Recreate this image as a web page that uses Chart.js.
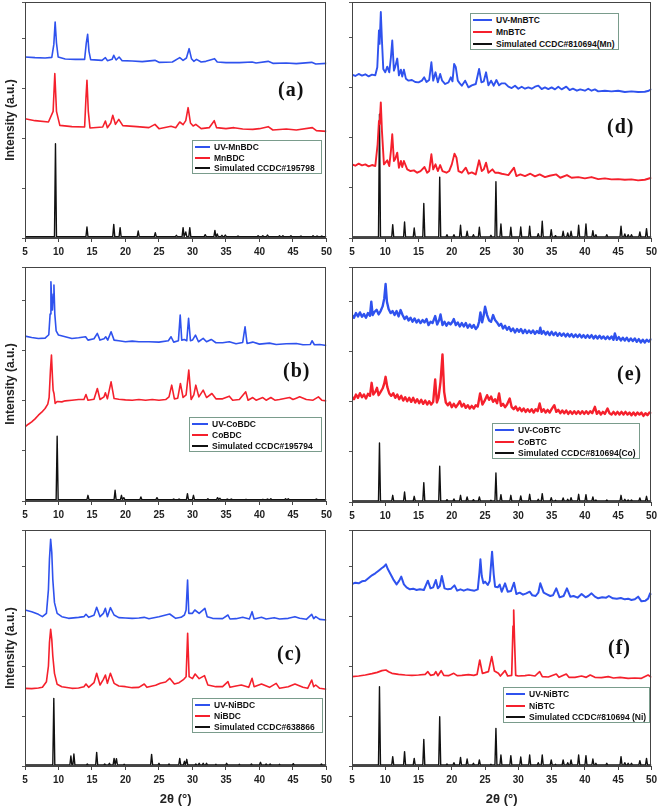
<!DOCTYPE html>
<html>
<head>
<meta charset="utf-8">
<script src="https://cdn.jsdelivr.net/npm/chart.js@4.4.1/dist/chart.umd.min.js"></script>
<style>
body { margin: 0; background: #fff; width: 661px; height: 809px; position: relative; overflow: hidden; font-family: "Liberation Sans", Arial, sans-serif; }
canvas { position: absolute; }
.legend { position: absolute; box-sizing: border-box; border: 1px solid #7a9c8c; background: #fff; font-weight: bold; font-size: 8.5px; color: #111; }
.legend div { position: absolute; left: 2px; white-space: nowrap; line-height: 10px; }
.legend i { display: inline-block; height: 2px; vertical-align: middle; margin-right: 4px; margin-top: -1px; }
.tag { position: absolute; font-family: "Liberation Serif", "Times New Roman", serif; font-weight: bold; font-size: 20px; line-height: 24px; letter-spacing: 1px; color: #111; }
</style>
</head>
<body>
<script>
// Axe des abscisses commun (2θ)
const xTicks = [5, 10, 15, 20, 25, 30, 35, 40, 45, 50];
const colors = ['#2f52ee', '#f5202c', '#111111'];

// Légendes
const legendA = ['UV-MnBDC', 'MnBDC', 'Simulated CCDC#195798'];
const legendB = ['UV-CoBDC', 'CoBDC', 'Simulated CCDC#195794'];
const legendC = ['UV-NiBDC', 'NiBDC', 'Simulated CCDC#638866'];
const legendD = ['UV-MnBTC', 'MnBTC', 'Simulated CCDC#810694(Mn)'];
const legendE = ['UV-CoBTC', 'CoBTC', 'Simulated CCDC#810694(Co)'];
const legendF = ['UV-NiBTC', 'NiBTC', 'Simulated CCDC#810694 (Ni)'];

// (a) MnBDC
const aUV = [[5,543],[6.5,541],[8,540],[9,542],[9.3,580],[9.5,648],[9.7,585],[9.95,543],[11,537],[12.5,536],[13.9,536],[14.15,585],[14.35,611],[14.55,560],[14.8,535],[16.5,533],[17,541],[17.3,532],[18,536],[18.25,548],[18.6,534],[19.05,543],[19.5,532],[21,531],[22.5,529],[24.4,533],[25,527],[27,528],[28.1,541],[28.6,533],[29.1,540],[29.5,568],[29.85,538],[30.2,530],[30.6,536],[31.3,528],[32,530],[33.3,538],[33.7,528],[35,526],[37,526],[38.9,528],[39.5,525],[41.3,530],[42,524],[44,525],[45.5,523],[47.8,527],[48.4,522],[50,524]];
const aRed = [[5,358],[6.5,352],[8.5,348],[9.2,380],[9.45,493],[9.7,380],[10.2,338],[12,334],[13.9,333],[14.1,420],[14.25,473],[14.45,380],[14.7,330],[16.6,333],[17,351],[17.3,331],[17.8,345],[18.1,368],[18.5,341],[19,356],[19.6,337],[21.7,334],[23.5,331],[24.4,341],[25,328],[26.8,335],[27.5,331],[28.1,348],[28.6,340],[29.0,352],[29.35,391],[29.7,345],[30.1,336],[30.5,341],[31.3,328],[32.5,331],[33.25,352],[33.6,331],[35,328],[36.2,331],[37.5,327],[39,326],[40,328],[41.3,334],[42,324],[44,327],[45.5,324],[47.9,331],[48.5,322],[50,320]];
const aSimPeaks = [[9.55,283],[14.25,33],[18.25,41],[19.2,31],[21.9,21],[24.45,16],[27.6,8],[28.6,31],[29.0,18],[29.6,31],[31.9,10],[33.35,23],[33.7,12],[34.4,8],[34.9,9],[36.8,6],[39.8,7],[40.5,7],[41.2,9],[43,7],[43.5,7],[44.7,7],[46.2,6],[48,7],[48.6,6],[49.3,6]];

// (b) CoBDC
const bUV = [[5,494],[6,490],[7,487],[8,488],[8.55,498],[8.75,560],[8.87,657],[9.0,590],[9.1,572],[9.22,620],[9.32,647],[9.45,560],[9.65,510],[10,497],[11,492],[12,487],[13,489],[14.05,492],[14.4,482],[15.3,486],[15.8,502],[16.2,482],[16.8,486],[17.05,492],[17.35,482],[17.85,507],[18.3,482],[19,480],[20,477],[21,479],[22,477],[23.5,477],[25,476],[26.4,480],[26.8,492],[27.2,476],[27.9,480],[28.17,557],[28.4,482],[28.8,484],[29.15,480],[29.42,547],[29.7,480],[30.0,482],[30.45,497],[30.9,477],[31.6,487],[32.1,477],[32.8,484],[33.5,474],[34.5,474],[35.5,477],[36.5,471],[37.5,475],[37.85,522],[38.15,472],[39,476],[40,470],[41.5,473],[42.5,469],[44,471],[45.5,472],[46.5,468],[47.6,469],[47.85,480],[48.2,468],[49,469],[50,466]];
const bRed = [[5,222],[5.5,230],[6,237],[6.5,246],[7,257],[7.5,266],[8,277],[8.4,290],[8.6,310],[8.8,392],[8.95,437],[9.1,370],[9.2,332],[9.33,322],[9.5,292],[9.8,298],[10.5,297],[11,300],[12,302],[13,304],[13.8,304],[14.1,319],[14.4,302],[15.3,305],[15.8,337],[16.2,304],[16.8,312],[17.0,324],[17.3,306],[17.85,357],[18.3,307],[19,305],[20,303],[21,302],[22,304],[23,302],[24,304],[25,302],[26,304],[26.5,312],[26.9,347],[27.3,306],[27.8,308],[28.2,352],[28.6,310],[29.05,318],[29.45,392],[29.8,304],[30.2,318],[30.5,347],[30.95,312],[31.6,332],[32.1,310],[32.9,322],[33.5,306],[34.5,306],[35.5,314],[36,302],[37,304],[37.95,327],[38.3,302],[39,310],[39.5,302],[40.5,310],[41,302],[41.7,310],[42.3,302],[43,304],[44.5,310],[45,304],[45.5,308],[46,312],[47,304],[48,302],[48.8,312],[49.3,302],[50,300]];
const bSimPeaks = [[9.8,194],[14.4,17],[18.45,32],[19.4,17],[19.75,10],[22.3,12],[24.7,10],[27.2,6],[28.0,6],[29.25,22],[30.15,17],[32.3,7],[33.75,10],[34.1,8],[35.2,6],[35.8,6],[38.0,5],[40.5,5],[41.2,6],[41.7,7],[43.9,7],[44.3,7],[48.5,6]];

// (c) NiBDC
const cUV = [[5,468],[6,463],[7,455],[7.6,448],[8.2,458],[8.5,530],[8.65,620],[8.83,680],[9.0,640],[9.15,560],[9.4,490],[9.8,458],[10.5,448],[11.5,443],[13,446],[13.8,448],[14.1,455],[14.5,446],[15.3,452],[15.7,476],[16.2,448],[16.7,458],[17.0,473],[17.3,448],[17.75,475],[18.3,453],[19,445],[20,444],[21,443],[22,444],[22.8,446],[23.5,442],[25,448],[26.6,456],[27.5,443],[28.3,446],[28.8,453],[29.05,468],[29.27,558],[29.45,458],[30.0,458],[30.35,468],[31,458],[31.85,473],[32.2,448],[33,443],[34.5,442],[35.3,453],[35.6,441],[36.5,442],[37.5,446],[38.5,441],[38.9,463],[39.2,441],[40.3,446],[41,441],[42.2,445],[43,441],[44.3,443],[45.3,448],[46,443],[47,440],[47.8,455],[48.1,442],[48.4,448],[49,440],[50,438]];
const cRed = [[5,233],[6,232],[7,234],[7.6,236],[8.2,253],[8.5,300],[8.65,370],[8.83,410],[9.0,380],[9.15,330],[9.4,278],[9.8,245],[10.5,238],[12,233],[13,234],[13.8,238],[14.1,246],[14.5,236],[15.3,250],[15.7,278],[16.2,243],[16.7,260],[17.0,273],[17.3,248],[17.75,278],[18.3,248],[19,240],[20,238],[21,235],[22,236],[22.8,246],[23.2,236],[24.5,242],[25.2,248],[26.0,252],[26.6,263],[27.3,246],[28,250],[28.7,260],[29.05,268],[29.28,398],[29.5,268],[30.0,262],[30.4,276],[31,262],[31.8,271],[32.3,243],[33.5,238],[34.5,238],[35.3,253],[35.6,236],[36.5,240],[37.3,243],[38.4,236],[38.9,263],[39.2,238],[40.3,246],[41.5,236],[42.5,248],[43,233],[44.3,238],[45.3,246],[46.5,236],[47.2,233],[47.8,258],[48.1,238],[48.4,243],[49,233],[50,230]];
const cSimPeaks = [[9.3,203],[11.85,30],[12.3,36],[14.3,6],[15.7,41],[16.9,6],[17.6,8],[18.3,23],[18.65,22],[19.8,5],[23.9,35],[25,8],[26.5,6],[28.1,23],[28.8,14],[29.15,20],[30.5,6],[31.0,8],[31.6,8],[32.1,8],[33.5,5],[35.1,8],[37,5],[38.8,6],[40.15,11],[41,6],[41.6,6],[43,5],[45.05,7],[49.25,6]];

// (d) MnBTC
const dUV = [[5,488],[5.5,484],[6,490],[6.5,485],[7,489],[7.5,483],[8,488],[8.5,486],[8.8,510],[9.05,620],[9.15,580],[9.33,675],[9.5,590],[9.7,505],[10.0,495],[10.3,512],[10.6,495],[10.85,540],[11.05,590],[11.3,500],[11.5,512],[11.8,536],[12.05,486],[12.35,503],[12.55,482],[12.8,503],[13.1,476],[13.5,470],[14,472],[14.5,466],[15,465],[15.5,470],[15.85,480],[16.2,466],[16.6,472],[16.93,525],[17.2,470],[17.55,495],[17.9,465],[18.25,490],[18.55,470],[19,460],[19.5,465],[19.85,480],[20.1,468],[20.35,520],[20.6,510],[20.9,470],[21.2,462],[21.5,455],[22.0,470],[22.5,450],[23,456],[23.6,460],[24.1,505],[24.45,465],[24.8,468],[25.15,495],[25.5,456],[25.9,470],[26.3,455],[26.7,472],[27.1,456],[27.5,462],[28,462],[28.5,452],[29,448],[29.5,455],[30,446],[30.5,452],[31,446],[31.5,450],[32,446],[32.5,452],[33,455],[33.5,445],[34,450],[34.5,445],[35,450],[35.5,444],[36,452],[36.5,444],[37.2,452],[37.7,442],[38.2,446],[38.8,440],[39.3,444],[40,440],[40.5,446],[41,440],[41.5,444],[42,438],[43,440],[44,438],[45,440],[46,436],[47,438],[48,436],[49,437],[49.6,440],[50,445]];
const dRed = [[5,220],[5.5,216],[6,222],[6.5,217],[7,220],[7.5,214],[8,218],[8.5,215],[8.85,280],[9.05,350],[9.15,340],[9.33,405],[9.5,320],[9.8,220],[10.3,232],[10.6,215],[10.85,260],[11.05,310],[11.3,230],[11.5,236],[11.8,255],[12.05,210],[12.35,230],[12.55,212],[12.8,230],[13.3,205],[13.8,200],[14.3,202],[14.8,195],[15.3,200],[15.9,212],[16.3,195],[16.6,200],[16.93,250],[17.2,205],[17.55,220],[17.9,200],[18.25,218],[18.6,200],[19.2,195],[19.6,200],[20.0,220],[20.4,252],[20.7,240],[21.0,200],[21.5,195],[22.1,210],[22.5,192],[23,196],[23.6,190],[24.1,232],[24.5,200],[24.8,205],[25.15,225],[25.5,195],[26.1,205],[26.5,195],[27,195],[27.5,192],[28,190],[28.5,188],[29.35,210],[29.7,185],[30.3,190],[31,185],[31.8,192],[32.5,184],[33.2,190],[34,182],[34.7,186],[35.7,190],[36.3,180],[37.3,188],[38,180],[39,182],[40,178],[41,182],[42,176],[43,178],[44,175],[45,176],[46,174],[47,175],[48,172],[49,174],[50,180]];
const dSimPeaks = [[9.13,370],[11.12,40],[12.9,48],[14.35,30],[15.79,103],[18.18,182],[19.27,10],[20.32,10],[21.31,38],[22.3,20],[23.25,10],[24.14,32],[25.88,8],[26.63,168],[27.38,42],[28.87,32],[30.36,33],[31.7,35],[32.99,13],[33.59,50],[34.94,25],[35.58,7],[36.73,20],[37.42,15],[37.92,20],[39.06,38],[40.16,42],[41.2,22],[41.65,10],[43.29,10],[45.43,35],[46.0,12],[46.5,10],[47.0,10],[48.26,18],[49.26,28]];

// (e) CoBTC
const eUV = [[5,560],[5.3,552],[5.6,566],[5.9,556],[6.2,568],[6.5,555],[6.8,563],[7.1,552],[7.4,566],[7.7,558],[7.9,600],[8.1,560],[8.4,570],[8.7,576],[9.0,562],[9.3,572],[9.6,586],[9.85,610],[10.05,653],[10.25,600],[10.5,578],[10.8,566],[11.1,572],[11.4,560],[11.7,572],[12.0,556],[12.3,575],[12.6,560],[12.9,548],[13.2,556],[13.5,544],[13.8,552],[14.1,540],[14.4,550],[14.7,538],[15.0,546],[15.3,536],[15.6,545],[15.9,538],[16.2,548],[16.5,530],[16.8,540],[17.1,536],[17.5,557],[17.8,532],[18.1,545],[18.3,562],[18.6,530],[18.9,540],[19.2,528],[19.5,538],[19.8,532],[20.1,540],[20.3,548],[20.6,530],[20.9,538],[21.2,526],[21.5,536],[21.8,526],[22.1,536],[22.4,522],[22.7,532],[23.0,522],[23.3,530],[23.6,518],[23.9,526],[24.1,540],[24.3,568],[24.55,538],[24.8,560],[25.0,585],[25.3,560],[25.6,544],[25.9,540],[26.2,560],[26.5,545],[26.8,538],[27.1,528],[27.4,534],[27.7,520],[28.0,528],[28.3,516],[28.6,524],[28.9,512],[29.2,520],[29.5,508],[29.8,518],[30.1,510],[30.4,518],[30.7,506],[31.0,516],[31.3,506],[31.6,514],[31.9,506],[32.2,514],[32.5,504],[32.8,512],[33.1,506],[33.3,522],[33.5,504],[33.8,512],[34.1,502],[34.4,510],[34.7,500],[35.0,510],[35.3,500],[35.6,508],[35.9,498],[36.2,506],[36.5,498],[36.8,505],[37.1,496],[37.4,504],[37.7,496],[38.0,503],[38.3,494],[38.6,502],[38.9,494],[39.2,502],[39.5,493],[39.8,500],[40.1,492],[40.4,500],[40.7,492],[41.0,500],[41.3,490],[41.6,498],[41.9,490],[42.2,498],[42.5,490],[42.8,496],[43.1,488],[43.4,496],[43.7,488],[44.0,496],[44.3,486],[44.5,505],[44.8,486],[45.1,494],[45.4,484],[45.7,492],[46.0,484],[46.3,492],[46.6,482],[46.9,490],[47.2,482],[47.5,490],[47.8,480],[48.1,488],[48.4,478],[48.7,486],[49.0,478],[49.3,486],[49.6,480],[50,490]];
const eRed = [[5,315],[5.3,308],[5.6,322],[5.9,312],[6.2,326],[6.5,314],[6.8,322],[7.1,310],[7.4,324],[7.7,318],[7.95,357],[8.2,322],[8.5,330],[8.75,342],[9.0,320],[9.3,330],[9.6,340],[9.85,355],[10.05,375],[10.3,345],[10.6,325],[10.9,318],[11.2,326],[11.5,312],[11.8,322],[12.1,308],[12.4,318],[12.7,304],[13.0,314],[13.3,302],[13.6,312],[13.9,300],[14.2,312],[14.5,298],[14.8,308],[15.1,296],[15.4,306],[15.7,294],[16.0,304],[16.3,292],[16.6,302],[16.9,292],[17.2,300],[17.5,367],[17.75,298],[18.0,312],[18.3,360],[18.6,442],[18.85,330],[19.1,298],[19.4,290],[19.7,298],[20.0,284],[20.3,294],[20.6,284],[20.9,292],[21.2,302],[21.5,286],[21.8,294],[22.1,282],[22.4,290],[22.7,280],[23.0,288],[23.3,280],[23.6,290],[23.9,286],[24.25,325],[24.6,292],[24.9,302],[25.3,320],[25.6,306],[25.9,316],[26.2,300],[26.5,308],[26.8,296],[27.1,325],[27.4,288],[27.7,294],[28.0,284],[28.3,292],[28.7,310],[29.0,284],[29.3,278],[29.6,286],[29.9,274],[30.2,282],[30.5,272],[30.8,280],[31.1,270],[31.4,278],[31.7,270],[32.0,278],[32.3,268],[32.6,278],[32.9,272],[33.2,295],[33.5,270],[33.8,278],[34.1,268],[34.4,276],[34.7,268],[35.0,278],[35.4,290],[35.7,270],[36.0,276],[36.3,266],[36.6,274],[36.9,266],[37.2,274],[37.5,264],[37.8,272],[38.1,264],[38.4,272],[38.7,264],[39.0,272],[39.3,264],[39.6,272],[39.9,264],[40.2,272],[40.5,264],[40.8,272],[41.1,266],[41.5,285],[41.8,264],[42.1,272],[42.4,262],[42.7,270],[43.0,264],[43.4,280],[43.7,266],[44.0,262],[44.3,270],[44.6,262],[44.9,270],[45.2,262],[45.5,270],[45.8,262],[46.1,270],[46.4,262],[46.7,268],[47.0,260],[47.3,268],[47.6,260],[47.9,268],[48.2,262],[48.5,268],[48.8,258],[49.1,266],[49.4,260],[49.7,268],[50,265]];
const eSimPeaks = [[9.13,177],[11.12,20],[12.9,30],[14.35,17],[15.79,58],[18.18,107],[19.27,7],[20.32,9],[21.31,20],[22.3,15],[23.25,7],[24.14,15],[25.88,5],[26.63,87],[27.38,22],[28.87,20],[30.36,18],[31.7,23],[32.99,8],[33.59,25],[34.94,13],[35.58,5],[36.73,12],[37.42,8],[37.92,13],[39.06,23],[40.16,22],[41.2,15],[41.65,6],[43.29,6],[45.43,20],[46.0,8],[46.5,6],[47.0,6],[48.26,12],[49.26,17]];

// (f) NiBTC
const fUV = [[5,546],[5.5,550],[6,548],[6.5,554],[7,556],[7.5,564],[8,572],[8.5,578],[9,586],[9.5,594],[9.8,598],[10.1,605],[10.4,590],[10.8,575],[11.2,560],[11.7,545],[12.1,556],[12.4,568],[12.8,545],[13.2,536],[13.7,530],[14.2,532],[14.7,528],[15.2,530],[15.8,528],[16.4,556],[16.8,533],[17.2,536],[17.6,558],[17.9,533],[18.2,540],[18.5,570],[18.9,533],[19.4,530],[19.9,532],[20.4,542],[20.8,526],[21.3,530],[21.8,526],[22.3,530],[22.8,528],[23.4,526],[23.9,530],[24.15,580],[24.3,620],[24.5,570],[24.75,548],[25.0,553],[25.4,543],[25.7,555],[26.05,643],[26.3,575],[26.5,538],[26.9,536],[27.2,544],[27.5,523],[28.0,548],[28.4,523],[28.9,525],[29.35,550],[29.7,516],[30.2,520],[30.7,514],[31.2,518],[31.7,523],[32.1,512],[32.6,510],[33.0,520],[33.3,548],[33.8,520],[34.3,515],[34.8,510],[35.2,512],[35.7,533],[36.2,506],[36.8,510],[37.3,533],[37.8,508],[38.3,510],[38.9,505],[39.5,516],[40.1,506],[40.5,510],[41.0,518],[41.5,508],[42,503],[42.6,506],[43.2,505],[43.6,510],[44.2,503],[44.8,502],[45.4,504],[46,500],[46.5,502],[47,498],[47.5,500],[48,508],[48.5,494],[49.1,496],[49.5,502],[49.8,518],[50,513]];
const fRed = [[5,268],[6,270],[7,273],[8,277],[8.8,281],[9.5,286],[10.1,288],[10.5,283],[11,278],[12,275],[13,273],[14,272],[15,273],[16,275],[16.4,283],[16.8,272],[17.3,274],[17.6,283],[17.9,271],[18.4,286],[18.8,272],[19.5,271],[20.3,278],[20.8,271],[21.5,272],[22.5,274],[23.3,272],[23.8,275],[24.2,318],[24.6,278],[25.0,280],[25.5,283],[26.0,328],[26.4,285],[27.0,278],[27.3,270],[28.0,286],[28.4,270],[29.0,272],[29.2,420],[29.3,468],[29.42,380],[29.6,272],[30,270],[31,271],[31.6,273],[32.5,270],[33.2,283],[33.6,268],[34.5,267],[35.7,276],[36.1,266],[37.2,276],[37.6,266],[38.5,266],[39.5,270],[40.2,266],[40.8,273],[41.5,266],[42.5,265],[43.5,268],[44.3,264],[45.3,266],[46.5,263],[47.5,264],[48.5,263],[49.5,273],[50,266]];
const fSimPeaks = [[9.13,238],[11.12,28],[12.9,43],[14.35,23],[15.79,80],[18.18,148],[19.27,6],[20.32,10],[21.31,26],[22.3,21],[23.25,8],[24.14,18],[25.88,5],[26.63,113],[27.38,33],[28.87,31],[30.36,27],[31.7,33],[32.99,10],[33.59,33],[34.94,18],[35.58,5],[36.73,18],[37.42,10],[37.92,18],[39.06,33],[40.16,31],[41.2,21],[41.65,8],[43.29,8],[45.43,28],[46.0,10],[46.5,8],[47.0,8],[48.26,16],[49.26,23]];

// Profil en bâtons pour les diagrammes simulés
function sticks(peaks, base) {
    const pts = [[xTicks[0], base]];
    peaks.forEach(([x, h]) => {
        pts.push([x - 0.15, base], [x, h], [x + 0.15, base]);
    });
    pts.push([xTicks[xTicks.length - 1], base]);
    return pts;
}

// Disposition des six panneaux
const panels = [
    { tag: '(a)', left: 0,   top: 0,   w: 336, h: 262, padT: 2, padR: 9, yW: 25, xH: 24, yTitle: true,  xTitle: false, ymax: 708,
      series: [aUV, aRed, sticks(aSimPeaks, 4)], names: legendA, widths: [1.6, 1.6, 1.4], legend: [192, 140, 130, 34], lineW: 15, tagPos: [278, 77] },
    { tag: '(b)', left: 0,   top: 262, w: 336, h: 264, padT: 5, padR: 9, yW: 25, xH: 25, yTitle: true,  xTitle: false, ymax: 701,
      series: [bUV, bRed, sticks(bSimPeaks, 4)], names: legendB, widths: [1.6, 1.6, 1.4], legend: [189, 417, 133, 35], lineW: 16, tagPos: [283, 358] },
    { tag: '(c)', left: 0,   top: 526, w: 336, h: 283, padT: 4, padR: 9, yW: 25, xH: 43, yTitle: true,  xTitle: true,  ymax: 708,
      series: [cUV, cRed, sticks(cSimPeaks, 3)], names: legendC, widths: [1.6, 1.6, 1.4], legend: [192, 698, 131, 35], lineW: 15, tagPos: [277, 641] },
    { tag: '(d)', left: 336, top: 0,   w: 325, h: 262, padT: 2, padR: 8, yW: 16, xH: 24, yTitle: false, xTitle: false, ymax: 705,
      series: [dUV, dRed, sticks(dSimPeaks, 3)], names: legendD, widths: [1.9, 1.9, 1.4], legend: [470, 13, 149, 37], lineW: 19, tagPos: [607, 114] },
    { tag: '(e)', left: 336, top: 262, w: 325, h: 264, padT: 5, padR: 8, yW: 16, xH: 24, yTitle: false, xTitle: false, ymax: 704,
      series: [eUV, eRed, sticks(eSimPeaks, 3)], names: legendE, widths: [2.4, 2.4, 1.4], legend: [492, 423, 148, 36], lineW: 19, tagPos: [617, 361] },
    { tag: '(f)', left: 336, top: 526, w: 325, h: 283, padT: 4, padR: 8, yW: 16, xH: 43, yTitle: false, xTitle: true,  ymax: 708,
      series: [fUV, fRed, sticks(fSimPeaks, 3)], names: legendF, widths: [2.0, 1.7, 1.4], legend: [503, 687, 147, 36], lineW: 19, tagPos: [608, 635] }
];

const fontFamily = '"Liberation Sans", Arial, sans-serif';

// Cadre autour de la zone de tracé
const framePlugin = {
    id: 'frame',
    afterDraw(chart) {
        const { ctx, chartArea: a } = chart;
        ctx.save();
        ctx.strokeStyle = '#444';
        ctx.lineWidth = 1;
        ctx.strokeRect(Math.round(a.left) + 0.5, Math.round(a.top) + 0.5, Math.round(a.right - a.left) - 1, Math.round(a.bottom - a.top) - 1);
        ctx.restore();
    }
};

function addLegend(p) {
    const box = document.createElement('div');
    box.className = 'legend';
    box.style.left = p.legend[0] + 'px';
    box.style.top = p.legend[1] + 'px';
    box.style.width = p.legend[2] + 'px';
    box.style.height = p.legend[3] + 'px';
    p.names.forEach((name, i) => {
        const row = document.createElement('div');
        row.style.top = (1 + i * (p.legend[3] - 13) / 2) + 'px';
        const line = document.createElement('i');
        line.style.width = p.lineW + 'px';
        line.style.background = colors[i];
        row.appendChild(line);
        row.appendChild(document.createTextNode(name));
        box.appendChild(row);
    });
    document.body.appendChild(box);
}

function addTag(p) {
    const t = document.createElement('div');
    t.className = 'tag';
    t.style.left = p.tagPos[0] + 'px';
    t.style.top = p.tagPos[1] + 'px';
    t.textContent = p.tag;
    document.body.appendChild(t);
}

function initPanel(p) {
    const canvas = document.createElement('canvas');
    canvas.width = p.w;
    canvas.height = p.h;
    canvas.style.left = p.left + 'px';
    canvas.style.top = p.top + 'px';
    document.body.appendChild(canvas);

    new Chart(canvas, {
        type: 'line',
        data: {
            datasets: p.series.map((s, i) => ({
                label: p.names[i],
                data: s.map(([x, y]) => ({ x, y })),
                borderColor: colors[i],
                borderWidth: p.widths[i],
                borderJoinStyle: 'round',
                pointRadius: 0,
                tension: 0,
                fill: false
            }))
        },
        options: {
            responsive: false,
            animation: false,
            devicePixelRatio: 1,
            layout: { padding: { left: 0, right: p.padR, top: p.padT, bottom: 0 } },
            plugins: { legend: { display: false }, tooltip: { enabled: false } },
            scales: {
                x: {
                    type: 'linear',
                    min: xTicks[0],
                    max: xTicks[xTicks.length - 1],
                    afterFit: s => { s.height = p.xH; },
                    afterBuildTicks: s => { s.ticks = xTicks.map(v => ({ value: v })); },
                    ticks: { autoSkip: false, maxRotation: 0, padding: 4, color: '#222', font: { family: fontFamily, size: 10, weight: 'bold' } },
                    grid: { drawOnChartArea: false, tickLength: 4, color: '#444' },
                    border: { color: '#444' },
                    title: { display: p.xTitle, text: '2θ (°)', color: '#222', padding: { top: 0, bottom: 2 }, font: { family: fontFamily, size: 13, weight: 'bold' } }
                },
                y: {
                    min: 0,
                    max: p.ymax,
                    afterFit: s => { s.width = p.yW; },
                    ticks: { display: false, stepSize: 150 },
                    grid: { drawOnChartArea: false, tickLength: 3, color: '#555' },
                    border: { color: '#444' },
                    title: { display: p.yTitle, text: 'Intensity (a.u.)', color: '#222', padding: { top: 3, bottom: 0 }, font: { family: fontFamily, size: 12, weight: 'bold' } }
                }
            }
        },
        plugins: [framePlugin]
    });

    addLegend(p);
    addTag(p);
}

panels.forEach(initPanel);
</script>
</body>
</html>
